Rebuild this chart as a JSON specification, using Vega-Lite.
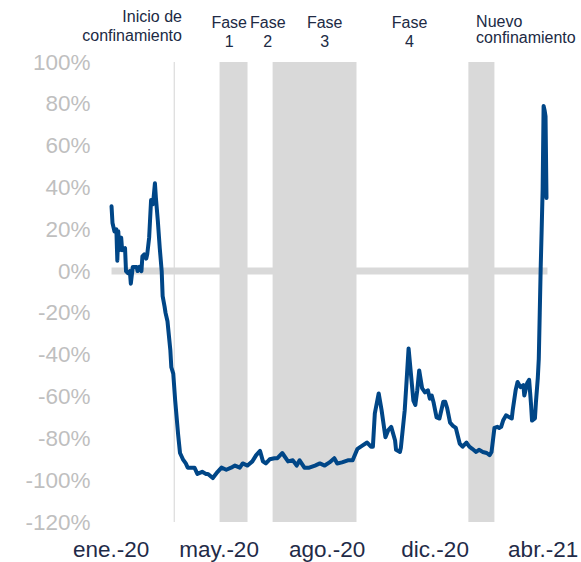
{
  "$schema": "https://vega.github.io/schema/vega-lite/v6.json",
  "width": 461,
  "height": 460,
  "autosize": {"type": "none"},
  "padding": {"left": 99, "top": 62, "right": 21, "bottom": 40},
  "background": "white",
  "config": {
    "view": {"stroke": null},
    "font": "Liberation Sans",
    "axis": {"grid": false, "domain": false, "ticks": false, "tickSize": 0, "labelFont": "Liberation Sans", "title": null}
  },
  "datasets": {
    "series": [
      {"date": "2020-01-11", "v": 31}, {"date": "2020-01-12", "v": 23}, {"date": "2020-01-14", "v": 19},
      {"date": "2020-01-16", "v": 20}, {"date": "2020-01-17", "v": 5}, {"date": "2020-01-18", "v": 19},
      {"date": "2020-01-19", "v": 10}, {"date": "2020-01-21", "v": 16}, {"date": "2020-01-22", "v": 10},
      {"date": "2020-01-25", "v": 11}, {"date": "2020-01-26", "v": 0}, {"date": "2020-01-28", "v": -1},
      {"date": "2020-01-30", "v": 0}, {"date": "2020-01-31", "v": -6}, {"date": "2020-02-02", "v": 2},
      {"date": "2020-02-06", "v": 2}, {"date": "2020-02-07", "v": 0}, {"date": "2020-02-09", "v": 2},
      {"date": "2020-02-11", "v": 0}, {"date": "2020-02-12", "v": 7}, {"date": "2020-02-14", "v": 8},
      {"date": "2020-02-16", "v": 6}, {"date": "2020-02-17", "v": 8}, {"date": "2020-02-19", "v": 16},
      {"date": "2020-02-21", "v": 34}, {"date": "2020-02-23", "v": 32}, {"date": "2020-02-25", "v": 42},
      {"date": "2020-02-26", "v": 35}, {"date": "2020-02-28", "v": 24}, {"date": "2020-03-01", "v": 11},
      {"date": "2020-03-03", "v": 0}, {"date": "2020-03-04", "v": -12}, {"date": "2020-03-06", "v": -17},
      {"date": "2020-03-07", "v": -20}, {"date": "2020-03-09", "v": -24}, {"date": "2020-03-12", "v": -38},
      {"date": "2020-03-13", "v": -46}, {"date": "2020-03-15", "v": -49}, {"date": "2020-03-17", "v": -62},
      {"date": "2020-03-20", "v": -78}, {"date": "2020-03-22", "v": -87}, {"date": "2020-03-25", "v": -90},
      {"date": "2020-03-28", "v": -92}, {"date": "2020-03-30", "v": -94}, {"date": "2020-04-01", "v": -94},
      {"date": "2020-04-04", "v": -94}, {"date": "2020-04-06", "v": -94}, {"date": "2020-04-09", "v": -97},
      {"date": "2020-04-14", "v": -96}, {"date": "2020-04-18", "v": -97}, {"date": "2020-04-20", "v": -97},
      {"date": "2020-04-25", "v": -99}, {"date": "2020-04-30", "v": -96}, {"date": "2020-05-04", "v": -94},
      {"date": "2020-05-09", "v": -95}, {"date": "2020-05-14", "v": -94}, {"date": "2020-05-18", "v": -93},
      {"date": "2020-05-23", "v": -94}, {"date": "2020-05-26", "v": -92}, {"date": "2020-05-31", "v": -93},
      {"date": "2020-06-05", "v": -91}, {"date": "2020-06-09", "v": -88}, {"date": "2020-06-13", "v": -86},
      {"date": "2020-06-16", "v": -91}, {"date": "2020-06-19", "v": -92}, {"date": "2020-06-23", "v": -90},
      {"date": "2020-06-28", "v": -89.5}, {"date": "2020-07-01", "v": -89.5}, {"date": "2020-07-06", "v": -87},
      {"date": "2020-07-12", "v": -91}, {"date": "2020-07-17", "v": -90.5}, {"date": "2020-07-21", "v": -93},
      {"date": "2020-07-24", "v": -90.5}, {"date": "2020-07-29", "v": -94}, {"date": "2020-08-03", "v": -94},
      {"date": "2020-08-09", "v": -93}, {"date": "2020-08-14", "v": -92}, {"date": "2020-08-19", "v": -93},
      {"date": "2020-08-24", "v": -91.5}, {"date": "2020-08-29", "v": -89.5}, {"date": "2020-09-01", "v": -92},
      {"date": "2020-09-06", "v": -91.5}, {"date": "2020-09-12", "v": -90.5}, {"date": "2020-09-17", "v": -90.5},
      {"date": "2020-09-22", "v": -85}, {"date": "2020-09-27", "v": -83.5}, {"date": "2020-10-02", "v": -82},
      {"date": "2020-10-06", "v": -84}, {"date": "2020-10-08", "v": -84}, {"date": "2020-10-10", "v": -68},
      {"date": "2020-10-14", "v": -58.5}, {"date": "2020-10-17", "v": -66.5}, {"date": "2020-10-21", "v": -79.5},
      {"date": "2020-10-24", "v": -76}, {"date": "2020-10-27", "v": -74.5}, {"date": "2020-10-31", "v": -81},
      {"date": "2020-11-01", "v": -85.5}, {"date": "2020-11-05", "v": -86.5}, {"date": "2020-11-06", "v": -84.5},
      {"date": "2020-11-10", "v": -66.5}, {"date": "2020-11-12", "v": -52}, {"date": "2020-11-14", "v": -37},
      {"date": "2020-11-17", "v": -52}, {"date": "2020-11-19", "v": -62}, {"date": "2020-11-21", "v": -64},
      {"date": "2020-11-23", "v": -57}, {"date": "2020-11-25", "v": -47.5}, {"date": "2020-11-28", "v": -56},
      {"date": "2020-12-01", "v": -58}, {"date": "2020-12-04", "v": -57}, {"date": "2020-12-06", "v": -61},
      {"date": "2020-12-08", "v": -59.5}, {"date": "2020-12-10", "v": -63}, {"date": "2020-12-13", "v": -70},
      {"date": "2020-12-16", "v": -70.5}, {"date": "2020-12-20", "v": -62.5}, {"date": "2020-12-22", "v": -62.5},
      {"date": "2020-12-24", "v": -65.5}, {"date": "2020-12-27", "v": -72.5}, {"date": "2020-12-30", "v": -74},
      {"date": "2021-01-02", "v": -75}, {"date": "2021-01-06", "v": -82.5}, {"date": "2021-01-09", "v": -84},
      {"date": "2021-01-13", "v": -82}, {"date": "2021-01-16", "v": -84}, {"date": "2021-01-19", "v": -85},
      {"date": "2021-01-23", "v": -86.5}, {"date": "2021-01-26", "v": -85.5}, {"date": "2021-01-30", "v": -86.5},
      {"date": "2021-02-03", "v": -87}, {"date": "2021-02-06", "v": -88}, {"date": "2021-02-08", "v": -86.5},
      {"date": "2021-02-11", "v": -75}, {"date": "2021-02-14", "v": -74.5}, {"date": "2021-02-16", "v": -75},
      {"date": "2021-02-18", "v": -74.5}, {"date": "2021-02-20", "v": -71.5}, {"date": "2021-02-23", "v": -69},
      {"date": "2021-02-27", "v": -70}, {"date": "2021-03-01", "v": -70.5}, {"date": "2021-03-02", "v": -66.5},
      {"date": "2021-03-05", "v": -57}, {"date": "2021-03-07", "v": -53}, {"date": "2021-03-10", "v": -55.5},
      {"date": "2021-03-13", "v": -54.5}, {"date": "2021-03-14", "v": -59.5}, {"date": "2021-03-17", "v": -53.5},
      {"date": "2021-03-19", "v": -52}, {"date": "2021-03-21", "v": -64}, {"date": "2021-03-22", "v": -71.5},
      {"date": "2021-03-25", "v": -70.5}, {"date": "2021-03-26", "v": -63}, {"date": "2021-03-28", "v": -51},
      {"date": "2021-03-29", "v": -42}, {"date": "2021-03-30", "v": -20}, {"date": "2021-03-31", "v": 2},
      {"date": "2021-04-01", "v": 20}, {"date": "2021-04-02", "v": 39}, {"date": "2021-04-03", "v": 79},
      {"date": "2021-04-04", "v": 77}, {"date": "2021-04-05", "v": 74}, {"date": "2021-04-06", "v": 35}
    ],
    "bands": [
      {"date": "2020-05-02", "end": "2020-05-31"},
      {"date": "2020-06-26", "end": "2020-09-21"},
      {"date": "2021-01-15", "end": "2021-02-11"}
    ],
    "events": [
      {"date": "2020-03-16"}
    ]
  },
  "encoding": {
    "x": {
      "field": "date",
      "type": "temporal",
      "title": null,
      "scale": {
        "type": "utc",
        "domain": [
          {"year": 2019, "month": 12, "date": 29, "utc": true},
          {"year": 2021, "month": 4, "date": 20, "utc": true}
        ]
      },
      "axis": {
        "values": [
          {"year": 2020, "month": 1, "date": 10, "utc": true},
          {"year": 2020, "month": 5, "date": 1, "utc": true},
          {"year": 2020, "month": 8, "date": 21, "utc": true},
          {"year": 2020, "month": 12, "date": 11, "utc": true},
          {"year": 2021, "month": 4, "date": 2, "utc": true}
        ],
        "labelExpr": "['ene.','feb.','mar.','abr.','may.','jun.','jul.','ago.','sep.','oct.','nov.','dic.'][utcmonth(datum.value)] + '-' + utcFormat(datum.value, '%y')",
        "labelFontSize": 22.5,
        "labelColor": "#1f2b48",
        "labelPadding": 16,
        "labelOverlap": false,
        "labelFlush": false,
        "labelBound": false
      }
    }
  },
  "layer": [
    {
      "data": {"name": "series"},
      "mark": {"type": "line", "color": "#004687", "strokeWidth": 4, "strokeJoin": "round", "strokeCap": "round"},
      "encoding": {
        "y": {
          "field": "v",
          "type": "quantitative",
          "title": null,
          "scale": {"domain": [-120, 100], "nice": false, "zero": false},
          "axis": {
            "values": [-120, -100, -80, -60, -40, -20, 0, 20, 40, 60, 80, 100],
            "labelExpr": "datum.value + '%'",
            "labelFontSize": 22.5,
            "labelColor": "#bfbfbf",
            "labelPadding": 9
          }
        },
        "opacity": {"value": 0}
      }
    },
    {
      "data": {"name": "bands"},
      "mark": {"type": "rect", "color": "#d9d9d9"},
      "encoding": {
        "x2": {"field": "end"},
        "y": {"datum": 100, "type": "quantitative", "title": null},
        "y2": {"datum": -120}
      }
    },
    {
      "data": {"name": "events"},
      "mark": {"type": "rule", "color": "#d4d4d4", "strokeWidth": 1},
      "encoding": {
        "y": {"datum": 100, "type": "quantitative", "title": null},
        "y2": {"datum": -120}
      }
    },
    {
      "data": {"name": "events"},
      "mark": {"type": "rule", "color": "#d9d9d9", "strokeWidth": 7, "strokeCap": "butt"},
      "encoding": {
        "x": {"datum": {"year": 2020, "month": 1, "date": 11, "utc": true}, "type": "temporal", "title": null},
        "x2": {"datum": {"year": 2021, "month": 4, "date": 7, "utc": true}},
        "y": {"datum": 0, "type": "quantitative", "title": null}
      }
    },
    {
      "data": {"name": "series"},
      "mark": {"type": "line", "color": "#004687", "strokeWidth": 4, "strokeJoin": "round", "strokeCap": "round"},
      "encoding": {
        "y": {"field": "v", "type": "quantitative", "title": null}
      }
    },
    {
      "data": {"values": [{"date": "2020-03-24", "label": "Inicio de\nconfinamiento"}]},
      "mark": {"type": "text", "align": "right", "baseline": "alphabetic", "fontSize": 16, "lineHeight": 19, "lineBreak": "\n", "color": "#202a44", "font": "Liberation Sans"},
      "encoding": {
        "text": {"field": "label"},
        "y": {"datum": 119.3, "type": "quantitative", "title": null}
      }
    },
    {
      "data": {"values": [
        {"date": "2020-05-12", "label": "Fase\n1"},
        {"date": "2020-06-21", "label": "Fase\n2"},
        {"date": "2020-08-19", "label": "Fase\n3"},
        {"date": "2020-11-15", "label": "Fase\n4"}
      ]},
      "mark": {"type": "text", "align": "center", "baseline": "alphabetic", "fontSize": 16, "lineHeight": 19, "lineBreak": "\n", "color": "#202a44", "font": "Liberation Sans"},
      "encoding": {
        "text": {"field": "label"},
        "y": {"datum": 116.5, "type": "quantitative", "title": null}
      }
    },
    {
      "data": {"values": [{"date": "2021-01-23", "label": "Nuevo\nconfinamiento"}]},
      "mark": {"type": "text", "align": "left", "baseline": "alphabetic", "fontSize": 16, "lineHeight": 16.6, "lineBreak": "\n", "color": "#202a44", "font": "Liberation Sans"},
      "encoding": {
        "text": {"field": "label"},
        "y": {"datum": 116.9, "type": "quantitative", "title": null}
      }
    }
  ]
}
